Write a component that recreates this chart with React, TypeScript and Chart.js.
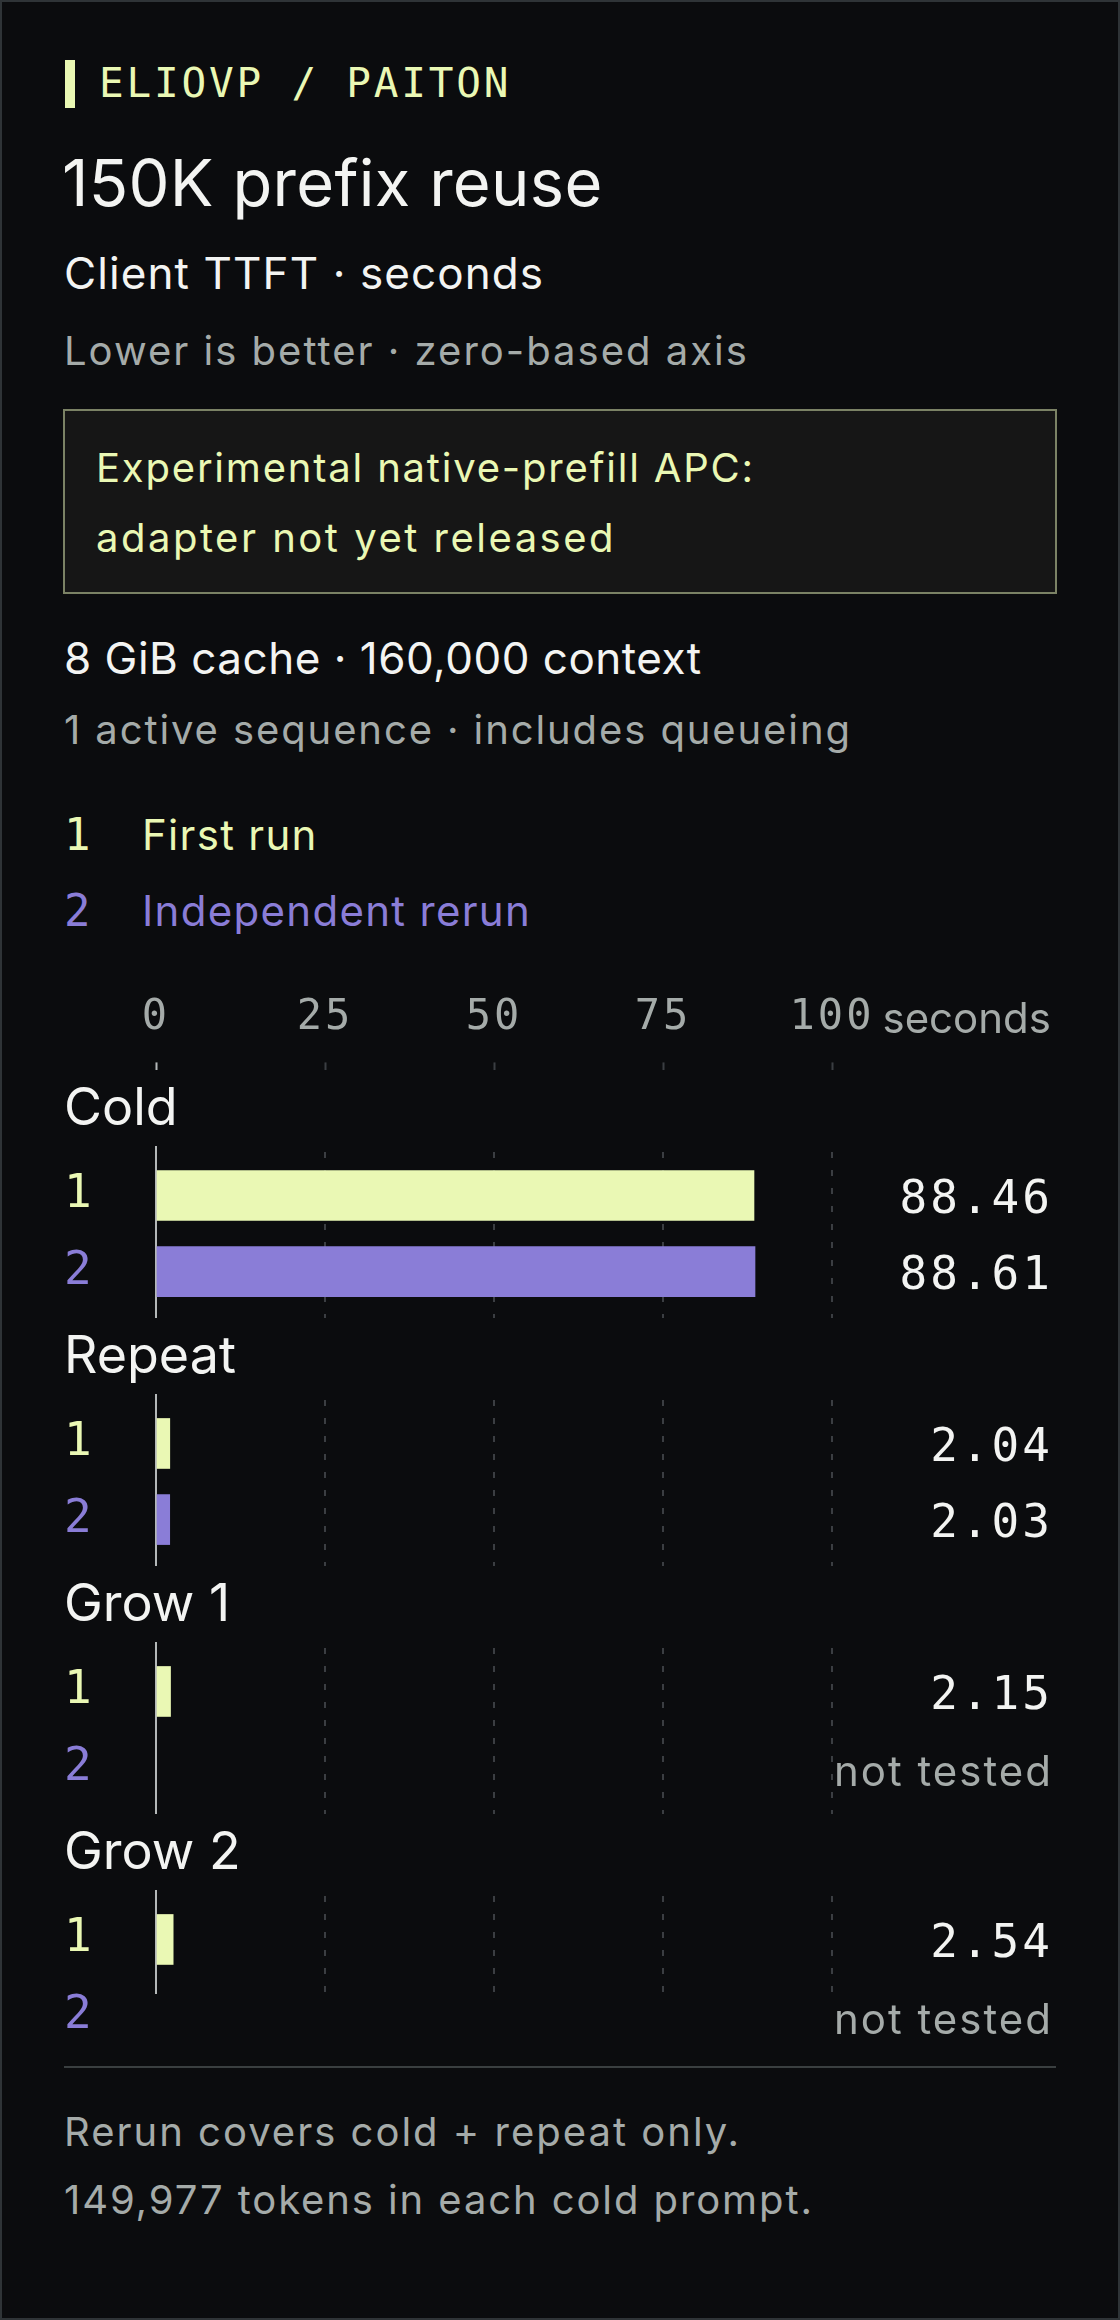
import React, { useEffect, useRef } from "react";
import { Chart, registerables } from "chart.js";

Chart.register(...registerables);

// ---- data ----
const groups = ["Cold", "Repeat", "Grow 1", "Grow 2"];
const firstRun = [88.46, 2.04, 2.15, 2.54];
const rerun = [88.61, 2.03, null, null];
const runLabels = ["1", "2"];
const runNames = ["First run", "Independent rerun"];
const axisTicks = [0, 25, 50, 75, 100];
const axisUnit = "seconds";
const missingText = "not tested";

// ---- style ----
const BG = "#0b0c0e";
const YELLOW = "#eaf8b4";
const PURPLE = "#8a7dd7";
const WHITE = "#f3f4f2";
const GRAY = "#a5aba9";
const GRID = "#3b3e42";
const ZERO = "#b4b8b8";
const SANS = "Inter, 'Noto Sans', sans-serif";
const MONO = "'DejaVu Sans Mono', monospace";
const runColors = [YELLOW, PURPLE];

const LEFT = 64;
const WIDTH = 992;
const AXIS_W = 92; // zero line sits at x = 156
const RIGHT_PAD = 224; // 100 sits at x = 832
const GROUP_TOP = 1146;
const GROUP_PITCH = 248;
const GROUP_H = 172;
const Y_MIN = -0.65;
const Y_SPAN = 2.26;
const LAST_AREA_H = 104; // grid of the last group stops after its first row

type TxtProps = {
  x: number;
  base: number;
  size: number;
  color: string;
  mono?: boolean;
  ls?: number;
  children: React.ReactNode;
};

// absolutely placed text, positioned by its baseline
const Txt = ({ x, base, size, color, mono = false, ls = 0, children }: TxtProps) => {
  const k = mono ? 0.846 : 0.863;
  return (
    <div
      style={{
        position: "absolute",
        left: x,
        top: base - k * size,
        fontFamily: mono ? MONO : SANS,
        fontSize: size,
        lineHeight: `${size}px`,
        color,
        letterSpacing: ls,
        whiteSpace: "nowrap",
      }}
    >
      {children}
    </div>
  );
};

const valueLabels = {
  id: "valueLabels",
  afterDatasetsDraw(chart: any) {
    const { ctx } = chart;
    const y = chart.scales.y;
    ctx.save();
    ctx.textAlign = "right";
    ctx.textBaseline = "alphabetic";
    chart.data.datasets.forEach((ds: any, i: number) => {
      const v = ds.data[0].x;
      const py = y.getPixelForValue(i);
      if (v == null) {
        ctx.letterSpacing = "2px";
        ctx.font = `42px ${SANS}`;
        ctx.fillStyle = GRAY;
        ctx.fillText(missingText, chart.width - 3, py + 18);
      } else {
        ctx.letterSpacing = "3px";
        ctx.font = `46px ${MONO}`;
        ctx.fillStyle = WHITE;
        ctx.fillText(v.toFixed(2), chart.width - 3, py + 17.5);
      }
    });
    ctx.restore();
  },
};

const GroupChart = ({ g }: { g: number }) => {
  const canvasRef = useRef<HTMLCanvasElement>(null);

  useEffect(() => {
    const runs = [firstRun[g], rerun[g]];
    const areaH = g === groups.length - 1 ? LAST_AREA_H : GROUP_H;
    const chart = new Chart(canvasRef.current as HTMLCanvasElement, {
      type: "bar",
      data: {
        datasets: runs.map((v, i) => ({
          label: runNames[i],
          data: [{ x: v, y: i }],
          backgroundColor: runColors[i],
          borderWidth: 0,
          barThickness: 50,
          grouped: false,
        })) as any,
      },
      options: {
        indexAxis: "y",
        animation: false,
        responsive: true,
        maintainAspectRatio: false,
        events: [],
        layout: { padding: { left: 0, right: RIGHT_PAD, top: 0, bottom: GROUP_H - areaH } },
        plugins: { legend: { display: false }, tooltip: { enabled: false } },
        scales: {
          x: {
            type: "linear",
            min: axisTicks[0],
            max: axisTicks[axisTicks.length - 1],
            afterBuildTicks: (s: any) => {
              s.ticks = axisTicks.map((value) => ({ value }));
            },
            ticks: { display: false },
            grid: {
              color: (c: any) => (c.index === 0 ? ZERO : GRID),
              lineWidth: 2,
              drawTicks: false,
            },
            border: {
              display: false,
              dash: (c: any) => (c.index === 0 ? [] : [6, 12]),
              dashOffset: 12,
            },
            afterFit: (s: any) => {
              s.height = 0;
              s.paddingLeft = 0;
              s.paddingRight = 0;
            },
          },
          y: {
            type: "linear",
            reverse: true,
            offset: false,
            min: Y_MIN,
            max: Y_MIN + (Y_SPAN * areaH) / GROUP_H,
            afterBuildTicks: (s: any) => {
              s.ticks = runLabels.map((_, i) => ({ value: i }));
            },
            ticks: {
              callback: (_v: any, i: number) => runLabels[i],
              color: (c: any) => runColors[c.index],
              font: { family: MONO, size: 46 },
              crossAlign: "far",
              padding: 0,
            },
            grid: { display: false },
            border: { display: false },
            afterFit: (s: any) => {
              s.width = AXIS_W;
              s.paddingTop = 0;
              s.paddingBottom = 0;
            },
          },
        },
      } as any,
      plugins: [valueLabels],
    });
    return () => chart.destroy();
  }, [g]);

  return (
    <div
      style={{
        position: "absolute",
        left: LEFT,
        top: GROUP_TOP + g * GROUP_PITCH,
        width: WIDTH,
        height: GROUP_H,
      }}
    >
      <canvas ref={canvasRef} />
    </div>
  );
};

const TICK_LEN = 8;
const TICK_PAD = 19;
const TICK_SIZE = 42;
const AXIS_TOP = 960;
const AXIS_H = 240;

const AxisChart = () => {
  const canvasRef = useRef<HTMLCanvasElement>(null);

  useEffect(() => {
    const spacing = {
      id: "spacing",
      beforeDraw(chart: any) {
        chart.ctx.letterSpacing = "3px";
      },
      afterDraw(chart: any) {
        const { ctx } = chart;
        const x = chart.scales.x;
        ctx.save();
        ctx.letterSpacing = "0px";
        ctx.font = `42px ${SANS}`;
        ctx.fillStyle = GRAY;
        ctx.textAlign = "right";
        ctx.textBaseline = "alphabetic";
        const base = x.bottom - TICK_LEN - TICK_PAD - 0.6 * TICK_SIZE + 0.346 * TICK_SIZE;
        ctx.fillText(axisUnit, chart.width - 5, base);
        ctx.restore();
      },
    };
    const chart = new Chart(canvasRef.current as HTMLCanvasElement, {
      type: "bar",
      data: { labels: [], datasets: [] },
      options: {
        indexAxis: "y",
        animation: false,
        responsive: true,
        maintainAspectRatio: false,
        events: [],
        layout: { padding: { left: AXIS_W, right: RIGHT_PAD, top: 14, bottom: 0 } },
        plugins: { legend: { display: false }, tooltip: { enabled: false } },
        scales: {
          x: {
            type: "linear",
            position: "top",
            min: axisTicks[0],
            max: axisTicks[axisTicks.length - 1],
            afterBuildTicks: (s: any) => {
              s.ticks = axisTicks.map((value) => ({ value }));
            },
            ticks: {
              color: GRAY,
              font: { family: MONO, size: TICK_SIZE },
              padding: TICK_PAD,
              maxRotation: 0,
              autoSkip: false,
            },
            grid: {
              drawOnChartArea: false,
              drawTicks: true,
              tickLength: TICK_LEN,
              tickWidth: 2,
              tickColor: (c: any) => (c.index === 0 ? ZERO : GRID),
            },
            border: { display: false },
          },
          y: { display: false },
        },
      } as any,
      plugins: [spacing],
    });
    return () => chart.destroy();
  }, []);

  return (
    <div style={{ position: "absolute", left: LEFT, top: AXIS_TOP, width: WIDTH, height: AXIS_H }}>
      <canvas ref={canvasRef} />
    </div>
  );
};

export default function App() {
  return (
    <div
      style={{
        position: "relative",
        width: 1120,
        height: 2320,
        background: BG,
        overflow: "hidden",
        fontFamily: SANS,
      }}
    >
      <style>{`html,body{margin:0;padding:0;background:${BG};}`}</style>

      {/* header */}
      <div style={{ position: "absolute", left: 65, top: 60, width: 10, height: 48, background: YELLOW }} />
      <Txt x={99} base={98} size={41} color={YELLOW} mono ls={2.8}>
        ELIOVP / PAITON
      </Txt>
      <Txt x={62} base={206} size={65} color={WHITE} ls={0.3}>
        150K prefix reuse
      </Txt>
      <Txt x={64} base={289} size={44} color={WHITE} ls={1.1}>
        Client TTFT · seconds
      </Txt>
      <Txt x={64} base={366} size={40} color={GRAY} ls={2}>
        Lower is better · zero-based axis
      </Txt>

      {/* callout */}
      <div
        style={{
          position: "absolute",
          left: 63,
          top: 409,
          width: 994,
          height: 185,
          boxSizing: "border-box",
          border: "2px solid #7b8265",
          background: "#161616",
        }}
      />
      <Txt x={96} base={483} size={40} color={YELLOW} ls={1.8}>
        Experimental native-prefill APC:
      </Txt>
      <Txt x={96} base={553} size={40} color={YELLOW} ls={2.5}>
        adapter not yet released
      </Txt>

      <Txt x={64} base={674} size={44} color={WHITE} ls={0.5}>
        8 GiB cache · 160,000 context
      </Txt>
      <Txt x={64} base={745} size={40} color={GRAY} ls={1.9}>
        1 active sequence · includes queueing
      </Txt>

      {/* legend */}
      {runNames.map((name, i) => (
        <React.Fragment key={name}>
          <Txt x={64} base={850 + i * 76} size={44} color={runColors[i]} mono>
            {runLabels[i]}
          </Txt>
          <Txt x={142} base={850 + i * 76} size={42} color={runColors[i]} ls={1.3}>
            {name}
          </Txt>
        </React.Fragment>
      ))}

      <AxisChart />

      {groups.map((name, g) => (
        <React.Fragment key={name}>
          <Txt x={64} base={GROUP_TOP + g * GROUP_PITCH - 20} size={52} color={WHITE}>
            {name}
          </Txt>
          <GroupChart g={g} />
        </React.Fragment>
      ))}

      {/* footer */}
      <div style={{ position: "absolute", left: 64, top: 2066, width: 992, height: 2, background: "#3a3f40" }} />
      <Txt x={64} base={2147} size={40} color={GRAY} ls={2}>
        Rerun covers cold + repeat only.
      </Txt>
      <Txt x={64} base={2215} size={40} color={GRAY} ls={1.9}>
        149,977 tokens in each cold prompt.
      </Txt>

      <div
        style={{
          position: "absolute",
          inset: 0,
          border: "2px solid #2f3437",
          boxSizing: "border-box",
          pointerEvents: "none",
        }}
      />
    </div>
  );
}
